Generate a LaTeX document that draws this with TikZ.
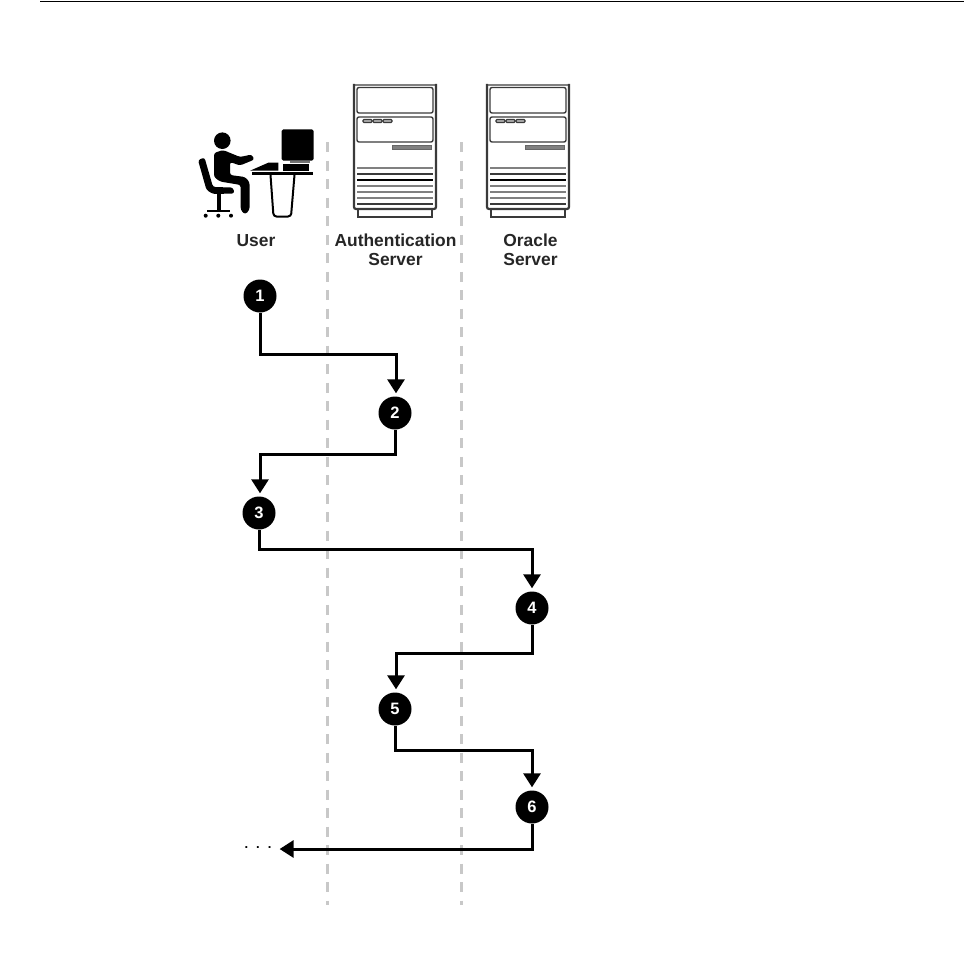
\documentclass[tikz,border=0pt]{standalone}
\usepackage{fontspec}
\setmainfont{Liberation Sans}
\usetikzlibrary{arrows.meta, positioning}
\definecolor{laneGray}{HTML}{C8C8C8}
\definecolor{panelGray}{HTML}{808080}
\definecolor{caseGray}{HTML}{3A3A3A}
\tikzset{
  flowArrow/.style={-{Triangle[length=14pt, width=17pt]}, line width=3pt, shorten >=3pt},
  laneLine/.style={laneGray, line width=3pt, dash pattern=on 10pt off 8.5pt},
  stepDot/.style={circle, fill=black, text=white, font=\bfseries\fontsize{16.5}{17}\selectfont,
                  minimum size=33pt, inner sep=0pt},
  caption/.style={font=\bfseries\fontsize{17.4}{19}\selectfont, align=center, text=black!85},
  server/.pic={
    \draw[panelGray, line width=1.5pt] (0,1) -- (82,1);
    \draw[caseGray, line width=2.2pt, rounded corners=2pt] (0,0) -- (0,125) -- (82,125) -- (82,0);
    \draw[caseGray, line width=1.4pt, rounded corners=2pt] (3,3.5) rectangle (79,29);
    \draw[caseGray, line width=1.4pt, rounded corners=2pt] (3,33) rectangle (79,58);
    \foreach \bx in {9,19,29}
      \draw[caseGray, line width=1.2pt, fill=panelGray!60, rounded corners=1pt] (\bx,35.5) rectangle ++(9,3);
    \draw[panelGray!80!black, line width=.8pt, fill=panelGray] (38,61) rectangle (77,65);
    \foreach \ly/\lw/\lc in {84/2.2/panelGray,90/1.5/caseGray,96/1.4/black,102/1.8/panelGray,108/1.8/panelGray,114/1.8/panelGray,120/1.4/caseGray}
      \draw[\lc, line width=\lw pt] (3,\ly) -- (79,\ly);
    \draw[caseGray, line width=2.2pt] (4,125) -- (4,133) -- (78,133) -- (78,125);
  },
}
\begin{document}
\begin{tikzpicture}[x=1pt, y=-1pt]
  \useasboundingbox (0,0) rectangle (964,971);
  \draw[black, line width=1.5pt] (40,1.5) -- (964,1.5);

  % lanes
  \draw[laneLine] (327,142) -- (327,905);
  \draw[laneLine] (461,142) -- (461,905);

  % user at the desk
  \fill (222.3,140.7) circle (8.3);
  \fill[rounded corners=2.5pt] (214,153) -- (223,150) -- (240,157) -- (251.7,154.5) -- (254.5,159.5) -- (240,165.5) -- (230,162)
    -- (230,175) -- (245,177) -- (249.5,182) -- (249.5,210) -- (245,214.5) -- (240.7,210) -- (240.7,185) -- (220,181.5) -- (214,177) -- cycle;
  \fill[rounded corners=2.5pt] (198,160) -- (204.5,157.5) -- (213,187) -- (233,187.5) -- (234.5,193.5) -- (213,194) -- (206.5,190) -- cycle;
  \fill (217,193) rectangle (220.5,211);
  \draw[line width=2pt] (207,211) -- (230,211);
  \foreach \wx in {205.7,218.3,231}
    \fill (\wx,215.7) circle (2);
  \fill[rounded corners=1.5pt] (281.7,129.3) rectangle (313.5,160.5);
  \fill[black!55] (290,160.5) rectangle (310,163);
  \fill (283.3,164) rectangle (309.3,170.7);
  \fill (250,170.7) -- (268.3,162.7) -- (278.3,162.7) -- (278.3,170.7) -- cycle;
  \fill (251.7,172) rectangle (313.3,175);
  \draw[line width=2pt, rounded corners=3pt] (270.5,175) -- (273.5,216.5) -- (291,216.5) -- (294.5,175);

  % servers
  \pic at (354,84) {server};
  \pic at (487,84) {server};

  \node[caption] (userText) at (256,241) {User};
  \node[caption] (authText) at (395.5,250) {Authentication\\Server};
  \node[caption] (oracleText) at (530.5,250) {Oracle\\Server};

  % steps
  \node[stepDot] (s1) at (260,296) {1};
  \node[stepDot] (s2) at (395,413) {2};
  \node[stepDot] (s3) at (259,513) {3};
  \node[stepDot] (s4) at (532,608) {4};
  \node[stepDot] (s5) at (395,709) {5};
  \node[stepDot] (s6) at (532,807) {6};
  \node[font=\bfseries\fontsize{13}{13}\selectfont, inner sep=0pt] (more) at (258,848) {.\hspace{8pt}.\hspace{8pt}.};

  \coordinate (e1) at (396,354);
  \coordinate (e2) at (260,454);
  \coordinate (e3) at (532,549);
  \coordinate (e4) at (396,653);
  \coordinate (e5) at (532,750);
  \coordinate (e6) at (532,849);

  \draw[flowArrow] (s1.south) |- (e1) -- (e1 |- s2.north);
  \draw[flowArrow] (s2.south) |- (e2) -- (e2 |- s3.north);
  \draw[flowArrow] (s3.south) |- (e3) -- (e3 |- s4.north);
  \draw[flowArrow] (s4.south) |- (e4) -- (e4 |- s5.north);
  \draw[flowArrow] (s5.south) |- (e5) -- (e5 |- s6.north);
  \draw[flowArrow, shorten >=8pt] (s6.south) -- (e6) -- (more.east |- e6);
\end{tikzpicture}
\end{document}
